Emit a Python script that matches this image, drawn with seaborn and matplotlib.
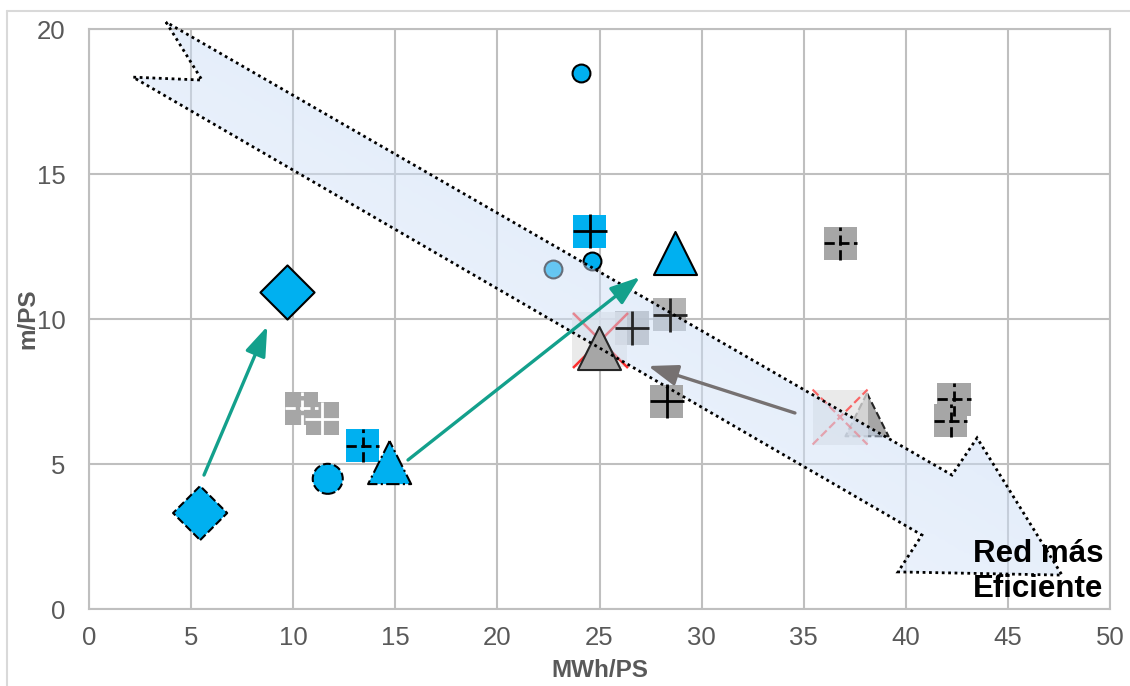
import numpy as np
import matplotlib
matplotlib.use("Agg")
import matplotlib.pyplot as plt
import seaborn as sns
from matplotlib.patches import Polygon
from matplotlib.lines import Line2D
from matplotlib.colors import LinearSegmentedColormap

# ---------------------------------------------------------------
# Efficiency of distribution networks: energy per supply point
# (MWh/PS) against network length per supply point (m/PS)
# ---------------------------------------------------------------

BLUE = "#00b0f0"
GRAY = "#a6a6a6"
LIGHT = "#e3e3e3"

# blue diamonds (before -> after)
diamond_x = [5.44, 9.71]
diamond_y = [3.31, 10.94]
diamond_ls = ["--", "-"]

# large blue circle
bcircle_x = [11.69]
bcircle_y = [4.49]

# small blue circles
scircle_x = [24.08, 22.71, 24.62]
scircle_y = [18.47, 11.72, 12.0]

# blue squares with plus
bsq_x = [13.4, 24.53]
bsq_y = [5.63, 13.02]
bsq_ls = ["--", "-"]

# blue triangles
btri_x = [14.72, 28.72]
btri_y = [5.05, 12.26]
btri_ls = ["-.", "-"]

# grey squares with white plus
gwsq_x = [10.42, 11.43]
gwsq_y = [6.93, 6.56]
gwsq_ls = ["--", "-"]

# grey squares with black plus
gsq_x = [26.59, 28.45, 28.3, 36.78, 42.36, 42.21]
gsq_y = [9.69, 10.14, 7.17, 12.62, 7.24, 6.5]
gsq_ls = ["-", "-", "-", "--", "--", "--"]

# grey triangles
gtri_x = [24.98, 38.1]
gtri_y = [9.0, 6.7]
gtri_ls = ["-", "--"]

# light squares with red cross
lsq_x = [25.02, 36.78]
lsq_y = [9.28, 6.62]
lsq_ls = ["-", "--"]

# trend arrows: (x_start, y_start, x_end, y_end)
teal_arrows = [(5.63, 4.62, 8.73, 9.75), (15.62, 5.14, 26.98, 11.45)]
gray_arrows = [(34.57, 6.76, 27.38, 8.38)]

# outline of the large "more efficient" arrow
big_arrow_x = [3.77, 5.53, 2.15, 40.79, 39.62, 47.65, 43.49, 42.26]
big_arrow_y = [20.24, 18.24, 18.34, 2.55, 1.28, 1.17, 5.9, 4.62]

x_ticks = [0, 5, 10, 15, 20, 25, 30, 35, 40, 45, 50]
y_ticks = [0, 5, 10, 15, 20]

sns.set_theme(style="white")
plt.rcParams["font.family"] = ["Liberation Sans", "DejaVu Sans"]

fig = plt.figure(figsize=(11.3, 6.86), dpi=100)
ax = fig.add_axes([0.0788, 0.1122, 0.9035, 0.8455])
ax.set_xlim(0, 50)
ax.set_ylim(0, 20)
ax.set_xticks(x_ticks)
ax.set_yticks(y_ticks)
ax.grid(True, color="#bfbfbf", lw=1.5)
ax.set_axisbelow(True)
for sp in ax.spines.values():
    sp.set_color("#bfbfbf")
    sp.set_linewidth(1.5)
ax.tick_params(axis="both", length=0, labelsize=18.5, colors="#595959")
ax.tick_params(axis="x", pad=12)
ax.tick_params(axis="y", pad=17)
ax.set_xlabel("MWh/PS", fontsize=17.5, fontweight="bold", color="#595959")
ax.set_ylabel("m/PS", fontsize=17.5, fontweight="bold", color="#595959")
ax.xaxis.set_label_coords(0.5, -0.086)
ax.yaxis.set_label_coords(-0.049, 0.5)


def scatter(xs, ys, marker, size, face, edge, lw, ls, z, alpha=1.0):
    for xv, yv, style in zip(xs, ys, ls):
        sns.scatterplot(x=[xv], y=[yv], marker=marker, s=size, color=face,
                        edgecolor=edge, linewidth=lw, linestyle=style,
                        alpha=alpha, zorder=z, ax=ax, legend=False)


def crosses(xs, ys, marker, size, color, lw, ls, z, alpha=1.0):
    for xv, yv, style in zip(xs, ys, ls):
        sns.scatterplot(x=[xv], y=[yv], marker=marker, s=size, color=color,
                        linewidth=lw, linestyle=style, alpha=alpha,
                        zorder=z, ax=ax, legend=False)


SQ = 566
# large arrow fill with a soft gradient across its width
poly_xy = np.column_stack([big_arrow_x, big_arrow_y])
fill_patch = Polygon(poly_xy, closed=True, facecolor="none", edgecolor="none",
                     transform=ax.transData)
ax.add_patch(fill_patch)
gx = np.linspace(min(big_arrow_x), max(big_arrow_x), 300)
gy = np.linspace(min(big_arrow_y), max(big_arrow_y), 200)
GX, GY = np.meshgrid(gx, gy)
disp = ax.transData.transform(np.column_stack([GX.ravel(), GY.ravel()]))
t = (-0.5 * disp[:, 0] - 0.866 * disp[:, 1]).reshape(GX.shape)
t = (t - t.min()) / (t.max() - t.min())
cmap = LinearSegmentedColormap.from_list("arrowfill", ["#a8c6ef", "#f4f8fe"])
im = ax.imshow(t, extent=[gx[0], gx[-1], gy[0], gy[-1]], origin="lower",
               cmap=cmap, aspect="auto", alpha=0.5, zorder=2.5,
               interpolation="bilinear")
im.set_clip_box(fig.bbox)
im.set_clip_path(fill_patch)
ax.set_xlim(0, 50)
ax.set_ylim(0, 20)

# markers below the arrow fill
scatter(scircle_x, scircle_y, "o", 165, BLUE, "black", 1.5, ["-"] * 3, 2)
scatter(gsq_x[:2], gsq_y[:2], "s", SQ, GRAY, "none", 0, ["-"] * 2, 2, alpha=0.85)
crosses(gsq_x[:2], gsq_y[:2], "+", SQ, "#262626", 2, gsq_ls[:2], 2.6)

# light squares with red crosses
scatter(lsq_x, lsq_y, "s", 1568, LIGHT, "none", 0, lsq_ls, 2.2, alpha=0.75)
crosses(lsq_x[:1], lsq_y[:1], "x", 1568, "#ff0000", 1.8, lsq_ls[:1], 2.3, alpha=0.8)
crosses(lsq_x[1:], lsq_y[1:], "x", 1568, "#ff3030", 1.6, lsq_ls[1:], 2.3, alpha=0.7)

# grey triangles
scatter(gtri_x[:1], gtri_y[:1], "^", 961, GRAY, "#262626", 1.5, gtri_ls[:1], 3)
scatter(gtri_x[1:], gtri_y[1:], "^", 961, GRAY, "#262626", 1.5, gtri_ls[1:], 2.1)

# remaining grey squares
scatter(gsq_x[2:], gsq_y[2:], "s", SQ, GRAY, "none", 0, gsq_ls[2:], 3)
crosses(gsq_x[2:], gsq_y[2:], "+", SQ, "black", 2, gsq_ls[2:], 3.1)
scatter(gwsq_x, gwsq_y, "s", SQ, GRAY, "none", 0, gwsq_ls, 3)
crosses(gwsq_x, gwsq_y, "+", SQ, "white", 2, gwsq_ls, 3.1)

# blue markers
scatter(diamond_x, diamond_y, "D", 760, BLUE, "black", 1.5, diamond_ls, 3)
scatter(bcircle_x, bcircle_y, "o", 467, BLUE, "black", 1.5, ["--"], 3)
scatter(bsq_x, bsq_y, "s", SQ, BLUE, "none", 0, bsq_ls, 3)
crosses(bsq_x, bsq_y, "+", SQ, "black", 2, bsq_ls, 3.1)
scatter(btri_x, btri_y, "^", 961, BLUE, "black", 1.5, btri_ls, 3)

# dotted outline of the large arrow
outline = Polygon(poly_xy, closed=True, facecolor="none", edgecolor="black",
                  linestyle=(0, (1, 1.3)), lw=2.0, zorder=4, clip_on=False)
ax.add_patch(outline)

# trend arrows
head = "-|>,head_length=0.9,head_width=0.32"
for (x0, y0, x1, y1) in teal_arrows:
    ax.annotate("", xy=(x1, y1), xytext=(x0, y0),
                arrowprops=dict(arrowstyle=head, color="#13a08c", lw=2.4,
                                mutation_scale=20, shrinkA=0, shrinkB=0),
                zorder=5)
for (x0, y0, x1, y1) in gray_arrows:
    ax.annotate("", xy=(x1, y1), xytext=(x0, y0),
                arrowprops=dict(arrowstyle=head, color="#767171", lw=2.4,
                                mutation_scale=20, shrinkA=0, shrinkB=0),
                zorder=5)

ax.text(49.66, 1.62, "Red más", ha="right", va="baseline", fontsize=22.5,
        fontweight="bold", color="black", zorder=6)
ax.text(49.66, 0.41, "Eficiente", ha="right", va="baseline", fontsize=22.5,
        fontweight="bold", color="black", zorder=6)

# chart frame (top and left edges)
fig.add_artist(Line2D([7 / 1130, 7 / 1130], [0, 1 - 11 / 686],
                      transform=fig.transFigure, color="#d9d9d9", lw=1.5))
fig.add_artist(Line2D([7 / 1130, 1], [1 - 11 / 686, 1 - 11 / 686],
                      transform=fig.transFigure, color="#d9d9d9", lw=1.5))

fig.savefig("out.png", dpi=100, facecolor="white")
